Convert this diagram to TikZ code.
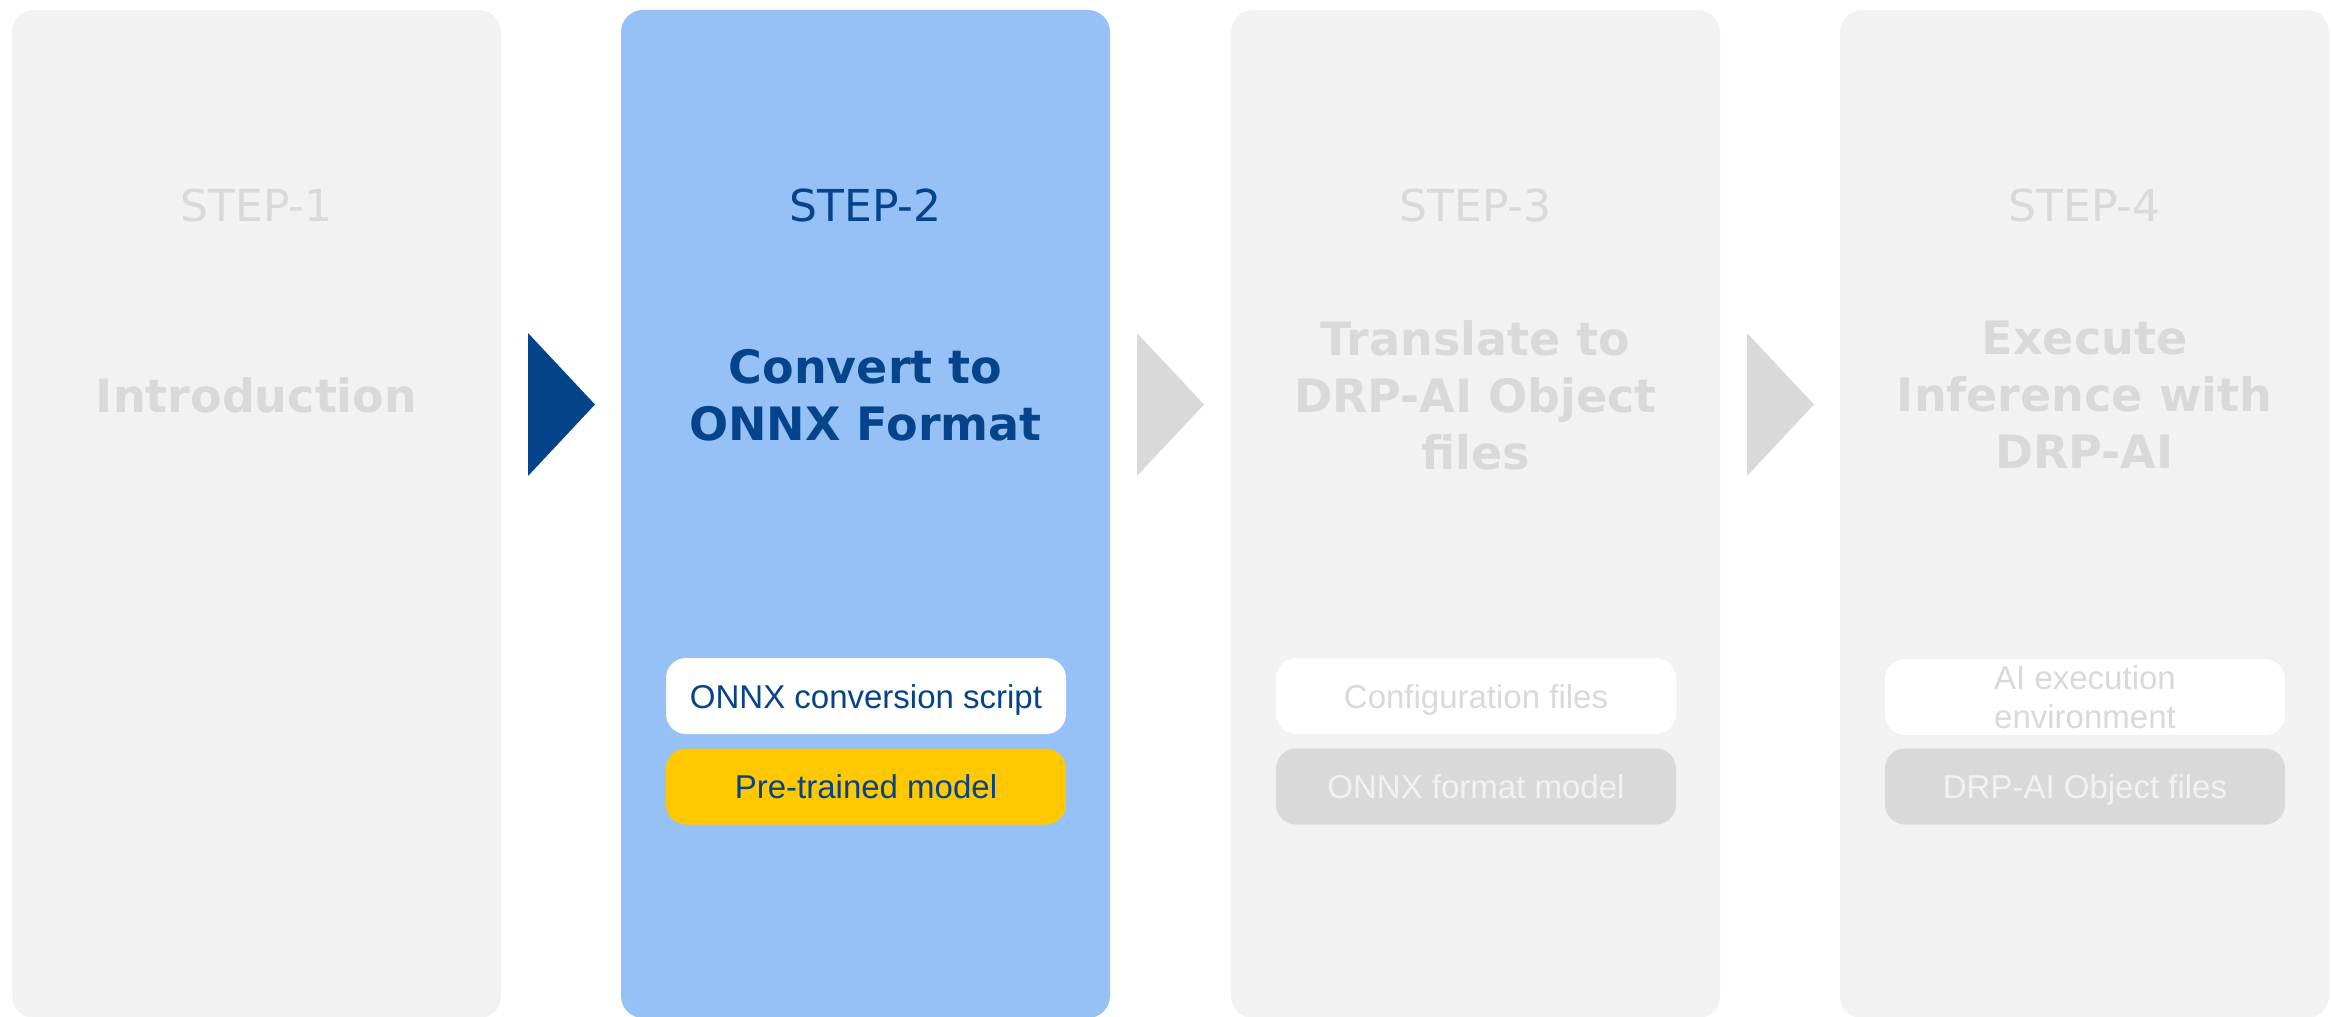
\documentclass[tikz,border=0pt]{standalone}
\usepackage{fontspec}
\setmainfont{DejaVu Sans}
\newfontfamily\arialf{Liberation Sans}
\definecolor{panelgray}{HTML}{F2F2F2}
\definecolor{panelblue}{HTML}{95C1F7}
\definecolor{darkblue}{HTML}{05438B}
\definecolor{lightgray}{HTML}{D9D9D9}
\definecolor{gold}{HTML}{FFC800}
\definecolor{paletext}{HTML}{F2F2F2}
\begin{document}
\begin{tikzpicture}[x=0.5pt,y=-0.5pt,
  panel/.style={rounded corners=11pt, minimum width=244.5pt, minimum height=504pt, inner sep=0pt},
  itembox/.style={rounded corners=10pt, minimum width=200pt, minimum height=38pt, inner sep=0pt,
    align=center, font=\arialf\fontsize{16.5}{19.5}\selectfont},
  oneline/.style={text height=12.5pt, text depth=0.5pt},
  steplabel/.style={font=\fontsize{22}{26}\selectfont},
  titlelabel/.style={align=center, font=\bfseries\fontsize{23}{28.5}\selectfont}
]
\useasboundingbox (0,0) rectangle (2331,1017);
\clip (0,0) rectangle (2331,1017);

% panels
\node[panel, fill=panelgray] (p1) at (256.5,514) {};
\node[panel, fill=panelblue] (p2) at (865.5,514) {};
\node[panel, fill=panelgray] (p3) at (1475.5,514) {};
\node[panel, fill=panelgray] (p4) at (2084.5,514) {};

% step labels
\node[steplabel, text=lightgray] (s1) at (256.5,205) {STEP-1};
\node[steplabel, text=darkblue] (s2) at (865.5,205) {STEP-2};
\node[steplabel, text=lightgray] (s3) at (1475.5,205) {STEP-3};
\node[steplabel, text=lightgray] (s4) at (2084.5,205) {STEP-4};

% titles
\node[titlelabel, text=lightgray] (t1) at (256.5,395) {Introduction};
\node[titlelabel, text=darkblue] (t2) at (865.5,395) {Convert to\\ONNX Format};
\node[titlelabel, text=lightgray] (t3) at (1475.5,395) {Translate to\\DRP-AI Object\\files};
\node[titlelabel, text=lightgray] (t4) at (2084.5,395) {Execute\\Inference with\\DRP-AI};

% item boxes
\node[itembox, oneline, fill=white, text=darkblue] (b21) at (866,696) {ONNX conversion script};
\node[itembox, oneline, fill=gold, text=darkblue] (b22) at (866,786.5) {Pre-trained model};
\node[itembox, oneline, fill=white, text=lightgray] (b31) at (1476,696) {Configuration files};
\node[itembox, oneline, fill=lightgray, text=paletext] (b32) at (1476,786.5) {ONNX format model};
\node[itembox, fill=white, text=lightgray] (b41) at (2085,697) {AI execution\\environment};
\node[itembox, oneline, fill=lightgray, text=paletext] (b42) at (2085,786.5) {DRP-AI Object files};

% chevrons between panels
\fill[darkblue] (528,333) -- (595,404.5) -- (528,476) -- cycle;
\fill[lightgray] (1137,333) -- (1204,404.5) -- (1137,476) -- cycle;
\fill[lightgray] (1747,333) -- (1814,404.5) -- (1747,476) -- cycle;
\end{tikzpicture}
\end{document}
